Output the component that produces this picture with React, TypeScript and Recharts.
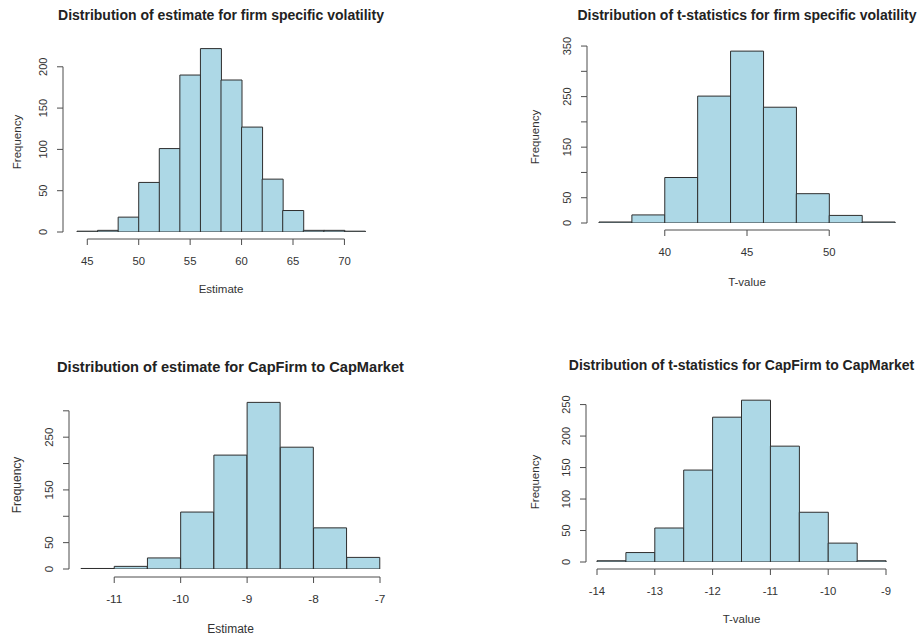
import { BarChart, Bar, XAxis, YAxis, Label } from 'recharts';

// bin starts and counts
const volEstBins = [44, 46, 48, 50, 52, 54, 56, 58, 60, 62, 64, 66, 68, 70];
const volEstCounts = [1, 2, 18, 60, 101, 190, 222, 184, 127, 64, 26, 2, 2, 1];
const volEstXTicks = [45, 50, 55, 60, 65, 70];
const volEstYTicks = [0, 50, 100, 150, 200];
const volEstYLabels = [0, 50, 100, 150, 200];

const volTBins = [36, 38, 40, 42, 44, 46, 48, 50, 52];
const volTCounts = [2, 16, 90, 251, 340, 229, 58, 15, 2];
const volTXTicks = [40, 45, 50];
const volTYTicks = [0, 50, 100, 150, 200, 250, 300, 350];
const volTYLabels = [0, 50, 150, 250, 350];

const capEstBins = [-11.5, -11, -10.5, -10, -9.5, -9, -8.5, -8, -7.5];
const capEstCounts = [1, 5, 21, 108, 216, 316, 231, 78, 22];
const capEstXTicks = [-11, -10, -9, -8, -7];
const capEstYTicks = [0, 50, 100, 150, 200, 250, 300];
const capEstYLabels = [0, 50, 150, 250];

const capTBins = [-14, -13.5, -13, -12.5, -12, -11.5, -11, -10.5, -10, -9.5];
const capTCounts = [2, 15, 54, 146, 230, 257, 184, 79, 30, 2];
const capTXTicks = [-14, -13, -12, -11, -10, -9];
const capTYTicks = [0, 50, 100, 150, 200, 250];
const capTYLabels = [0, 50, 100, 150, 200, 250];

const FONT = '"Liberation Sans", Arial, Helvetica, sans-serif';
const TEXT = '#333';
const AXIS = '#4d4d4d';
const FILL = '#ADD8E6';
const EDGE = '#2e2e2e';

type Panel = {
  title: string;
  xTitle: string;
  bins: number[];
  counts: number[];
  binWidth: number;
  xTicks: number[];
  yTicks: number[];
  yLabels: number[];
  yMax: number;
  left: number;
  top: number;
  width: number;
  height: number;
  plotLeft: number;
  plotRight: number;
  plotTop: number;
  plotBottom: number;
  yGap: number;
  xGap: number;
  freqX: number;
  freqDy: number;
  xTitleY: number;
  titleY: number;
  scale: number;
};

const panels: Panel[] = [
  {
    title: 'Distribution of estimate for firm specific volatility', xTitle: 'Estimate',
    bins: volEstBins, counts: volEstCounts, binWidth: 2,
    xTicks: volEstXTicks, yTicks: volEstYTicks, yLabels: volEstYLabels, yMax: 230,
    left: 0, top: 0, width: 462, height: 320,
    plotLeft: 77, plotRight: 365, plotTop: 42, plotBottom: 232,
    yGap: 14, xGap: 7, freqX: 17, freqDy: 5, xTitleY: 289, titleY: 15, scale: 1,
  },
  {
    title: 'Distribution of t-statistics for firm specific volatility', xTitle: 'T-value',
    bins: volTBins, counts: volTCounts, binWidth: 2,
    xTicks: volTXTicks, yTicks: volTYTicks, yLabels: volTYLabels, yMax: 360,
    left: 462, top: 0, width: 462, height: 320,
    plotLeft: 137, plotRight: 433, plotTop: 41, plotBottom: 223,
    yGap: 12, xGap: 7, freqX: 73, freqDy: 5, xTitleY: 282, titleY: 15, scale: 1,
  },
  {
    title: 'Distribution of estimate for CapFirm to CapMarket', xTitle: 'Estimate',
    bins: capEstBins, counts: capEstCounts, binWidth: 0.5,
    xTicks: capEstXTicks, yTicks: capEstYTicks, yLabels: capEstYLabels, yMax: 330,
    left: 0, top: 320, width: 462, height: 319,
    plotLeft: 81, plotRight: 380, plotTop: 75, plotBottom: 249,
    yGap: 12, xGap: 8, freqX: 17, freqDy: 3, xTitleY: 309, titleY: 47, scale: 1.045,
  },
  {
    title: 'Distribution of t-statistics for CapFirm to CapMarket', xTitle: 'T-value',
    bins: capTBins, counts: capTCounts, binWidth: 0.5,
    xTicks: capTXTicks, yTicks: capTYTicks, yLabels: capTYLabels, yMax: 270,
    left: 462, top: 320, width: 462, height: 319,
    plotLeft: 135, plotRight: 424, plotTop: 72, plotBottom: 242,
    yGap: 11, xGap: 7, freqX: 73, freqDy: 5, xTitleY: 299, titleY: 45, scale: 1,
  },
];

const YW = 60;
const XH = 60;

function XTick(props: any) {
  const { x, payload, index, cfg } = props;
  const c: Panel = cfg;
  const lo = c.bins[0];
  const hi = c.bins[c.bins.length - 1] + c.binWidth;
  const pxPerUnit = (c.plotRight - c.plotLeft) / (hi - lo);
  const step = (c.xTicks[1] - c.xTicks[0]) * pxPerUnit;
  const y0 = c.plotBottom + c.xGap;
  const last = index === c.xTicks.length - 1;
  return (
    <g>
      {!last && <line x1={x} x2={x + step} y1={y0} y2={y0} stroke={AXIS} strokeWidth={1} />}
      <line x1={x} x2={x} y1={y0} y2={y0 + 6} stroke={AXIS} strokeWidth={1} />
      <text x={x} y={y0 + 22} textAnchor="middle" dominantBaseline="central" fontSize={11.3 * c.scale} fill={TEXT}
        fontFamily={FONT}>
        {String(payload.value)}
      </text>
    </g>
  );
}

function YTick(props: any) {
  const { y, payload, index, cfg } = props;
  const c: Panel = cfg;
  const pxPerUnit = (c.plotBottom - c.plotTop) / c.yMax;
  const step = (c.yTicks[1] - c.yTicks[0]) * pxPerUnit;
  const x0 = c.plotLeft - c.yGap;
  const last = index === c.yTicks.length - 1;
  const showLabel = c.yLabels.includes(payload.value);
  return (
    <g>
      {!last && <line x1={x0} x2={x0} y1={y} y2={y - step} stroke={AXIS} strokeWidth={1} />}
      <line x1={x0} x2={x0 - 6} y1={y} y2={y} stroke={AXIS} strokeWidth={1} />
      {showLabel && (
        <text x={x0 - 20} y={y} textAnchor="middle" dominantBaseline="central" fontSize={11 * c.scale} fill={TEXT}
          fontFamily={FONT} transform={`rotate(-90, ${x0 - 20}, ${y})`}>
          {String(payload.value)}
        </text>
      )}
    </g>
  );
}

function Histogram({ cfg }: { cfg: Panel }) {
  const data = cfg.bins.map((b, i) => ({ start: b, count: cfg.counts[i] }));
  const lo = cfg.bins[0];
  const hi = cfg.bins[cfg.bins.length - 1] + cfg.binWidth;
  const margin = {
    top: cfg.plotTop,
    left: cfg.plotLeft - YW,
    right: cfg.width - cfg.plotRight,
    bottom: cfg.height - cfg.plotBottom - XH,
  };
  const midY = (cfg.plotTop + cfg.plotBottom) / 2 + cfg.freqDy;
  const midX = (cfg.plotLeft + cfg.plotRight) / 2;
  return (
    <div style={{ position: 'absolute', left: cfg.left, top: cfg.top, width: cfg.width, height: cfg.height }}>
      <div style={{
        position: 'absolute', left: midX - 250, width: 500, top: cfg.titleY - 10, lineHeight: '20px',
        textAlign: 'center', fontFamily: FONT, fontWeight: 'bold', fontSize: 14 * cfg.scale, color: '#222',
        whiteSpace: 'nowrap',
      }}>
        {cfg.title}
      </div>
      <BarChart width={cfg.width} height={cfg.height} data={data} margin={margin} barCategoryGap={0} barGap={0}>
        <XAxis xAxisId="bin" dataKey="start" type="category" hide />
        <XAxis xAxisId="val" dataKey="start" type="number" domain={[lo, hi]} ticks={cfg.xTicks} allowDataOverflow
          interval={0} height={XH} axisLine={false} tickLine={false} tick={(p: any) => <XTick {...p} cfg={cfg} />}>
          <Label content={() => (
            <text x={midX} y={cfg.xTitleY} textAnchor="middle" dominantBaseline="central" fontSize={11.5 * cfg.scale}
              fill={TEXT} fontFamily={FONT}>{cfg.xTitle}</text>
          )} />
        </XAxis>
        <YAxis type="number" domain={[0, cfg.yMax]} ticks={cfg.yTicks} allowDataOverflow interval={0} width={YW}
          axisLine={false} tickLine={false} tick={(p: any) => <YTick {...p} cfg={cfg} />}>
          <Label content={() => (
            <text x={cfg.freqX} y={midY} textAnchor="middle" dominantBaseline="central" fontSize={11.5 * cfg.scale}
              fill={TEXT} fontFamily={FONT} transform={`rotate(-90, ${cfg.freqX}, ${midY})`}>Frequency</text>
          )} />
        </YAxis>
        <Bar xAxisId="bin" dataKey="count" fill={FILL} stroke={EDGE} strokeWidth={1} isAnimationActive={false} />
      </BarChart>
    </div>
  );
}

export default function App() {
  return (
    <div style={{ position: 'absolute', left: 0, top: 0, width: 924, height: 639, background: '#fff' }}>
      {panels.map((p) => (
        <Histogram key={p.title} cfg={p} />
      ))}
    </div>
  );
}
